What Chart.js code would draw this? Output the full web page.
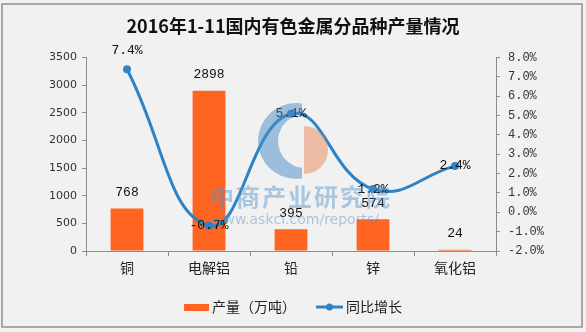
<!DOCTYPE html>
<html lang="zh-CN">
<head>
<meta charset="utf-8">
<title>2016年1-11国内有色金属分品种产量情况</title>
<script src="https://cdn.jsdelivr.net/npm/chart.js@4.4.0/dist/chart.umd.min.js"></script>
<style>
  html, body { margin: 0; padding: 0; background: #f1f1f1; }
  #wrap { width: 586px; height: 332px; }
</style>
</head>
<body>
<div id="wrap"><canvas id="grafico-produtos" width="586" height="332"></canvas></div>
<script>
// dados: produção (万吨) e crescimento anual (%)
const categories   = ['铜', '电解铝', '铅', '锌', '氧化铝'];
const outputValues = [768, 2898, 395, 574, 24];
const growthValues = [7.4, -0.7, 5.1, 1.2, 2.4];
const outputAxis   = { min: 0, max: 3500, step: 500 };
const growthAxis   = { min: -2, max: 8, step: 1 };
const seriesNames  = ['产量（万吨）', '同比增长'];

const ORANGE = '#ff6420';
const BLUE   = '#2d83c8';
const AXIS   = '#8c8c8c';
const CJK    = '"Noto Sans CJK SC", "Noto Sans", sans-serif';

// fundo cinza + moldura
const fundoPlugin = {
  id: 'fundo',
  beforeDraw(chart) {
    const ctx = chart.ctx;
    ctx.save();
    ctx.fillStyle = '#f1f1f1';
    ctx.fillRect(0, 0, chart.width, chart.height);
    ctx.strokeStyle = '#8f8f8f';
    ctx.lineWidth = 1.5;
    ctx.strokeRect(2, 4, 580, 323);
    ctx.restore();
  }
};

// rótulos de valor sobre barras e pontos
const rotulosPlugin = {
  id: 'rotulos',
  afterDatasetsDraw(chart) {
    const ctx = chart.ctx;
    ctx.save();
    ctx.fillStyle = '#111';
    ctx.textAlign = 'center';
    ctx.textBaseline = 'middle';
    ctx.font = '13px "Liberation Mono", monospace';

    chart.getDatasetMeta(0).data.forEach((bar, i) => {
      ctx.fillText(String(outputValues[i]), bar.x, bar.y - 16);
    });
    chart.getDatasetMeta(1).data.forEach((pt, i) => {
      const dy = i === 0 ? -19 : 0; // primeiro rótulo fica acima do ponto
      ctx.fillText(growthValues[i].toFixed(1) + '%', pt.x, pt.y + dy);
    });
    ctx.restore();
  }
};

// legenda embaixo: retângulo laranja e linha com ponto
const legendaPlugin = {
  id: 'legenda',
  afterDraw(chart) {
    const ctx = chart.ctx;
    const y = 307;
    ctx.save();
    ctx.font = '14px ' + CJK;
    ctx.textBaseline = 'middle';
    const w0 = ctx.measureText(seriesNames[0]).width;
    const w1 = ctx.measureText(seriesNames[1]).width;
    const total = 25 + 3 + w0 + 20 + 27 + 3 + w1;
    let x = Math.round(chart.width / 2 - total / 2);

    ctx.fillStyle = ORANGE;
    ctx.fillRect(x, y - 3, 25, 7);
    x += 28;
    ctx.fillStyle = '#222';
    ctx.fillText(seriesNames[0], x, y);
    x += w0 + 20;

    ctx.strokeStyle = BLUE;
    ctx.lineWidth = 3;
    ctx.beginPath();
    ctx.moveTo(x, y);
    ctx.lineTo(x + 27, y);
    ctx.stroke();
    ctx.fillStyle = BLUE;
    ctx.beginPath();
    ctx.arc(x + 13.5, y, 3.5, 0, Math.PI * 2);
    ctx.fill();
    x += 30;
    ctx.fillStyle = '#222';
    ctx.fillText(seriesNames[1], x, y);
    ctx.restore();
  }
};

// marca d'água translúcida no meio do gráfico
const marcaPlugin = {
  id: 'marca',
  afterDraw(chart) {
    const ctx = chart.ctx;
    ctx.save();
    ctx.globalAlpha = 0.5;

    // anel azul em forma de C
    ctx.save();
    ctx.beginPath();
    ctx.rect(240, 95, 62, 95);
    ctx.clip();
    ctx.fillStyle = '#4a8cc6';
    ctx.beginPath();
    ctx.arc(296, 141, 38, 0, Math.PI * 2);
    ctx.arc(305, 141, 27, 0, Math.PI * 2, true);
    ctx.fill('evenodd');
    ctx.restore();

    // meio disco laranja
    ctx.fillStyle = '#e9875a';
    ctx.beginPath();
    ctx.moveTo(304, 126);
    ctx.arc(304, 150, 24, -Math.PI / 2, Math.PI / 2);
    ctx.closePath();
    ctx.fill();

    ctx.globalAlpha = 0.45;
    ctx.fillStyle = '#4f92cc';
    ctx.textBaseline = 'middle';
    ctx.textAlign = 'left';
    ctx.font = 'bold 24px ' + CJK;
    if ('letterSpacing' in ctx) ctx.letterSpacing = '2px';
    ctx.fillText('中商产业研究院', 210, 197);
    if ('letterSpacing' in ctx) ctx.letterSpacing = '0px';
    ctx.font = '14px "DejaVu Sans", sans-serif';
    ctx.fillText('www.askci.com/reports/', 212, 220);
    ctx.restore();
  }
};

const ctx = document.getElementById('grafico-produtos').getContext('2d');
const grafico = new Chart(ctx, {
  data: {
    labels: categories,
    datasets: [
      {
        type: 'bar',
        label: seriesNames[0],
        data: outputValues,
        yAxisID: 'yOutput',
        backgroundColor: ORANGE,
        barPercentage: 0.4,
        categoryPercentage: 1,
        order: 2
      },
      {
        type: 'line',
        label: seriesNames[1],
        data: growthValues,
        yAxisID: 'yGrowth',
        borderColor: BLUE,
        backgroundColor: BLUE,
        borderWidth: 3,
        pointRadius: 4,
        pointBackgroundColor: BLUE,
        pointBorderWidth: 0,
        tension: 0.45,
        clip: false,
        order: 1
      }
    ]
  },
  options: {
    responsive: false,
    devicePixelRatio: 1,
    animation: false,
    layout: { padding: 0 },
    plugins: {
      legend: { display: false },
      tooltip: { enabled: false },
      title: {
        display: true,
        text: '2016年1-11国内有色金属分品种产量情况',
        color: '#111',
        font: { family: CJK, size: 18, weight: 'bold' },
        padding: { top: 15, bottom: 21 }
      }
    },
    scales: {
      x: {
        grid: { display: true, drawOnChartArea: false, drawTicks: true, tickLength: 5, color: AXIS, offset: true },
        border: { color: AXIS },
        ticks: { color: '#222', padding: 3, font: { family: CJK, size: 14 } },
        afterFit(scale) { scale.height = 81; }
      },
      yOutput: {
        position: 'left',
        min: outputAxis.min,
        max: outputAxis.max,
        grid: { display: true, drawOnChartArea: false, tickLength: 4, color: AXIS },
        border: { color: AXIS },
        ticks: {
          stepSize: outputAxis.step,
          color: '#333',
          padding: 5,
          font: { family: '"DejaVu Sans", sans-serif', size: 11 },
          callback: v => String(v)
        },
        afterFit(scale) { scale.width = 86; }
      },
      yGrowth: {
        position: 'right',
        min: growthAxis.min,
        max: growthAxis.max,
        grid: { display: true, drawOnChartArea: false, tickLength: 4, color: AXIS },
        border: { color: AXIS },
        ticks: {
          stepSize: growthAxis.step,
          color: '#333',
          padding: 8,
          font: { family: '"Liberation Mono", monospace', size: 12 },
          callback: v => v.toFixed(1) + '%'
        },
        afterFit(scale) { scale.width = 90; }
      }
    }
  },
  plugins: [fundoPlugin, rotulosPlugin, legendaPlugin, marcaPlugin]
});
</script>
</body>
</html>
